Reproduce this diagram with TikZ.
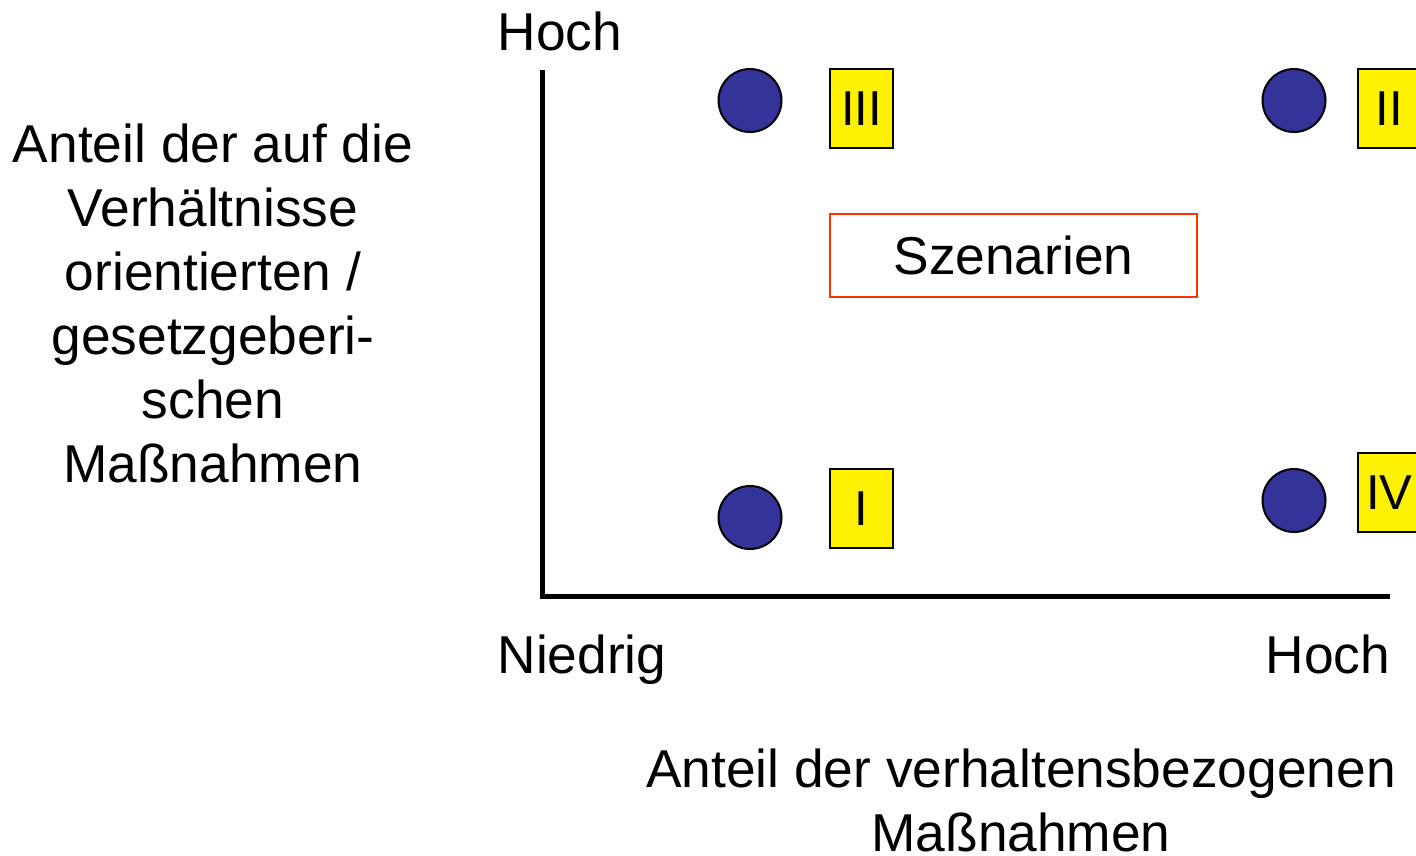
\documentclass[tikz,border=0pt]{standalone}
\usepackage{fontspec}
\setmainfont{Liberation Sans}
\definecolor{dotblue}{RGB}{51,51,153}
\definecolor{scenred}{RGB}{255,51,0}
\begin{document}
\begin{tikzpicture}[x=1pt,y=-1pt,
  lbl/.style={font=\fontsize{53.3}{64}\selectfont, inner sep=0pt},
  dot/.style={circle, draw=black, line width=2pt, fill=dotblue, minimum size=63pt, inner sep=0pt},
  tag/.style={draw=black, line width=2.5pt, fill=yellow, minimum width=63pt, minimum height=79pt, inner sep=0pt, font=\fontsize{49}{56}\selectfont},
  scen/.style={draw=scenred, line width=2pt, minimum width=367pt, minimum height=83pt, inner sep=0pt, font=\fontsize{53.3}{64}\selectfont},
  axis/.style={line width=5pt}]
\useasboundingbox (0,0) rectangle (1416,855);
\clip (0,0) rectangle (1416,855);
% axes
\coordinate (ytop) at (542,70);
\coordinate (ybot) at (542,598.5);
\coordinate (xbeg) at (539.5,596);
\coordinate (xend) at (1390,596);
\draw[axis] (ytop) -- (ybot);
\draw[axis] (xbeg) -- (xend);
% labels
\node[lbl, anchor=base] (hochy) at (560,50) {Hoch};
\node[lbl, anchor=base] (niedrig) at (582,673) {Niedrig};
\node[lbl, anchor=base] (hochx) at (1328,673) {Hoch};
\node[lbl, anchor=north, align=center] (ylab) at (213,123.5) {Anteil der auf die\\Verhältnisse\\orientierten /\\gesetzgeberi-\\schen\\Maßnahmen};
\node[lbl, anchor=north, align=center] (xlab) at (1021,748.5) {Anteil der verhaltensbezogenen\\Maßnahmen};
% scenario box
\node[scen] (szen) at (1013.5,255.5) {Szenarien};
% dots
\node[dot] (d3) at (750,100.5) {};
\node[dot] (d2) at (1294,100.5) {};
\node[dot] (d1) at (750,517.5) {};
\node[dot] (d4) at (1294,500.5) {};
% tags
\node[tag] (t3) at (861.5,108.5) {III};
\node[tag] (t2) at (1389.5,108.5) {II};
\node[tag] (t1) at (861.5,508.5) {I};
\node[tag] (t4) at (1389.5,492.5) {IV};
\end{tikzpicture}
\end{document}
